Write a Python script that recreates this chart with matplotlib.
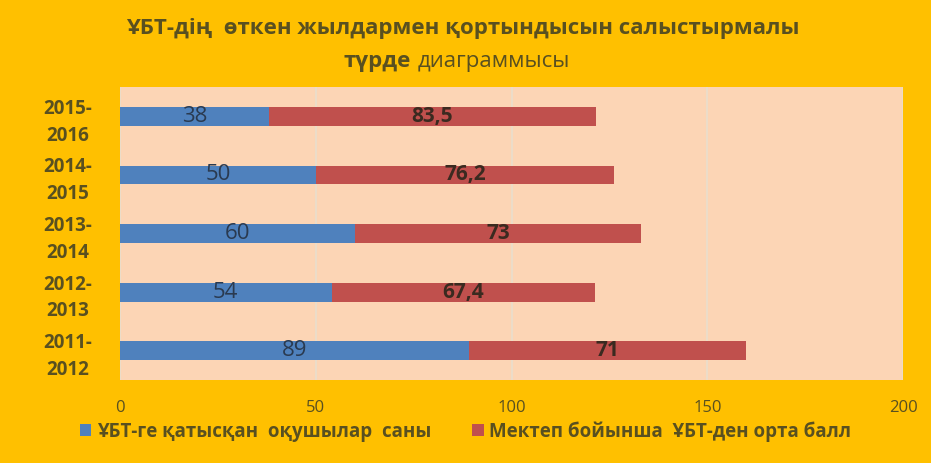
import matplotlib
matplotlib.use("Agg")
import matplotlib.pyplot as plt
import numpy as np

# data
years = ["2011-\n2012", "2012-\n2013", "2013-\n2014", "2014-\n2015", "2015-\n2016"]
pupils = [89, 54, 60, 50, 38]
avg_score = [71, 67.4, 73, 76.2, 83.5]
pupil_labels = ["89", "54", "60", "50", "38"]
score_labels = ["71", "67,4", "73", "76,2", "83,5"]
xticks = [0, 50, 100, 150, 200]
legend_names = ["ҰБТ-ге қатысқан  оқушылар  саны", "Мектеп бойынша  ҰБТ-ден орта балл"]

plt.rcParams['font.family'] = ['Open Sans', 'DejaVu Sans']

orange = "#FFC000"
peach = "#FCD5B5"
blue = "#4F81BD"
red = "#C0504D"
txt = "#595020"

fig = plt.figure(figsize=(9.31, 4.63), dpi=100, facecolor=orange)
ax = fig.add_axes([0.129, 0.179, 0.841, 0.633])
ax.set_facecolor(peach)

y = np.arange(len(years))
b1 = ax.barh(y, pupils, height=0.32, color=blue, label=legend_names[0])
b2 = ax.barh(y, avg_score, left=pupils, height=0.32, color=red, label=legend_names[1])

for i in range(len(years)):
    ax.text(pupils[i] / 2, y[i], pupil_labels[i], ha="center", va="center",
            fontsize=16, color="#2a3a50")
    ax.text(pupils[i] + avg_score[i] / 2, y[i], score_labels[i], ha="center", va="center",
            fontsize=15, fontweight="bold", color="#3a2a20")

ax.set_xlim(0, 200)
ax.set_ylim(-0.5, 4.5)
ax.set_xticks(xticks)
ax.set_yticks(y)
ax.set_yticklabels(years, fontsize=13.5, fontweight="bold", color=txt, linespacing=1.45, ha="center")
ax.tick_params(axis="y", length=0, pad=38)
ax.tick_params(axis="x", length=0, labelsize=12, labelcolor=txt, pad=14)
ax.grid(axis="x", color="#ECDCC8", linewidth=1.5)
ax.set_axisbelow(True)
for s in ax.spines.values():
    s.set_visible(False)

fig.text(0.497, 0.938, "ҰБТ-дің  өткен жылдармен қортындысын салыстырмалы", ha="center", va="center",
         fontsize=16, fontweight="bold", color=txt)
fig.text(0.441, 0.867, "түрде", ha="right", va="center", fontsize=16, fontweight="bold", color=txt)
fig.text(0.449, 0.867, "диаграммысы", ha="left", va="center", fontsize=16, color=txt)

fig.legend(handles=[b1, b2], loc="center", bbox_to_anchor=(0.50, 0.068), ncol=2, frameon=False,
           prop={"size": 13.5, "weight": "bold"}, labelcolor=txt, handlelength=0.6, handleheight=0.6,
           handletextpad=0.3, columnspacing=2.2)

fig.savefig("out.png", dpi=100, facecolor=orange)
